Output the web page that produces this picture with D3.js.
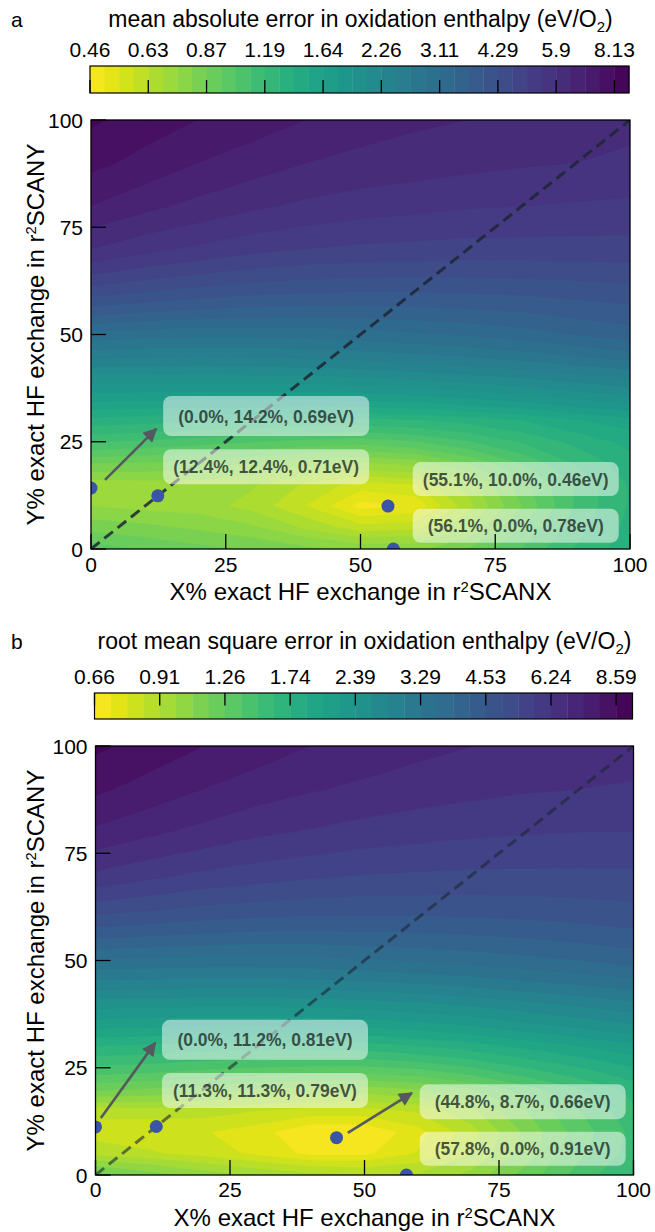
<!DOCTYPE html>
<html>
<head>
<meta charset="utf-8">
<script src="https://cdn.jsdelivr.net/npm/d3@7"></script>
<style>
  body { margin: 0; background: #fff; }
  svg { display: block; }
</style>
</head>
<body>
<svg id="fig" width="655" height="1232"></svg>
<script>
// ---- sampling grid (% exact exchange) ----
const xGrid = [0, 10, 20, 30, 40, 50, 60, 70, 80, 90, 100];
const yGrid = [0, 5, 10, 15, 20, 25, 30, 40, 50, 60, 70, 80, 90, 100];

// mean absolute error (eV/O2); one row per yGrid value, columns follow xGrid
const maeGrid = [
  [0.98, 0.93, 0.89, 0.86, 0.82, 0.78, 0.78, 0.87, 1.02, 1.20, 1.35],
  [0.84, 0.82, 0.79, 0.75, 0.67, 0.60, 0.61, 0.74, 0.94, 1.15, 1.32],
  [0.74, 0.72, 0.71, 0.66, 0.58, 0.48, 0.50, 0.66, 0.87, 1.11, 1.30],
  [0.70, 0.71, 0.71, 0.69, 0.62, 0.56, 0.58, 0.71, 0.91, 1.11, 1.30],
  [0.87, 0.86, 0.84, 0.80, 0.76, 0.73, 0.76, 0.87, 1.02, 1.20, 1.35],
  [1.11, 1.08, 1.05, 1.02, 0.99, 0.97, 1.01, 1.09, 1.20, 1.32, 1.43],
  [1.35, 1.33, 1.30, 1.28, 1.26, 1.25, 1.28, 1.33, 1.40, 1.50, 1.58],
  [2.01, 2.01, 2.01, 2.03, 2.04, 2.08, 2.13, 2.19, 2.27, 2.36, 2.45],
  [3.00, 2.95, 2.92, 2.92, 2.95, 3.00, 3.07, 3.14, 3.24, 3.38, 3.51],
  [4.46, 4.29, 4.15, 4.05, 3.99, 3.96, 3.96, 3.99, 4.02, 4.09, 4.15],
  [5.90, 5.58, 5.36, 5.15, 5.03, 4.95, 4.91, 4.87, 4.87, 4.87, 4.87],
  [6.92, 6.54, 6.24, 5.99, 5.80, 5.67, 5.58, 5.49, 5.45, 5.40, 5.36],
  [7.67, 7.31, 6.92, 6.65, 6.39, 6.24, 6.14, 6.04, 5.95, 5.90, 5.80],
  [8.24, 7.80, 7.49, 7.20, 6.92, 6.65, 6.49, 6.39, 6.29, 6.14, 6.04]
];

// root mean square error (eV/O2); same layout
const rmseGrid = [
  [1.20, 1.11, 1.03, 0.97, 0.93, 0.91, 0.92, 1.01, 1.20, 1.41, 1.62],
  [0.88, 0.85, 0.81, 0.76, 0.70, 0.70, 0.78, 0.91, 1.11, 1.34, 1.53],
  [0.81, 0.79, 0.78, 0.74, 0.66, 0.66, 0.75, 0.88, 1.09, 1.31, 1.51],
  [0.86, 0.87, 0.87, 0.84, 0.81, 0.81, 0.85, 0.97, 1.16, 1.36, 1.57],
  [1.18, 1.15, 1.11, 1.07, 1.03, 1.03, 1.07, 1.16, 1.31, 1.47, 1.66],
  [1.45, 1.43, 1.39, 1.36, 1.34, 1.34, 1.38, 1.47, 1.60, 1.73, 1.87],
  [1.73, 1.70, 1.67, 1.66, 1.66, 1.67, 1.73, 1.81, 1.92, 2.03, 2.15],
  [2.48, 2.46, 2.44, 2.44, 2.46, 2.50, 2.56, 2.64, 2.75, 2.86, 2.98],
  [3.50, 3.47, 3.44, 3.44, 3.47, 3.53, 3.59, 3.67, 3.76, 3.85, 3.98],
  [4.82, 4.71, 4.60, 4.52, 4.49, 4.49, 4.49, 4.52, 4.56, 4.63, 4.71],
  [6.14, 5.89, 5.66, 5.53, 5.40, 5.31, 5.27, 5.23, 5.23, 5.23, 5.23],
  [7.20, 6.87, 6.60, 6.34, 6.19, 6.04, 5.94, 5.85, 5.80, 5.76, 5.76],
  [8.06, 7.68, 7.32, 7.03, 6.81, 6.65, 6.49, 6.39, 6.29, 6.24, 6.19],
  [8.73, 8.32, 7.93, 7.62, 7.32, 7.09, 6.92, 6.76, 6.65, 6.54, 6.44]
];

// colorbar tick values
const maeTicks = [0.46, 0.63, 0.87, 1.19, 1.64, 2.26, 3.11, 4.29, 5.9, 8.13];
const rmseTicks = [0.66, 0.91, 1.26, 1.74, 2.39, 3.29, 4.53, 6.24, 8.59];

// axis ticks
const axisTicks = [0, 25, 50, 75, 100];

// optimal mixing points: X%, Y%, error (eV)
const maeOptima = [
  { x: 0.0, y: 14.2, e: 0.69 },
  { x: 12.4, y: 12.4, e: 0.71 },
  { x: 55.1, y: 10.0, e: 0.46 },
  { x: 56.1, y: 0.0, e: 0.78 }
];
const rmseOptima = [
  { x: 0.0, y: 11.2, e: 0.81 },
  { x: 11.3, y: 11.3, e: 0.79 },
  { x: 44.8, y: 8.7, e: 0.66 },
  { x: 57.8, y: 0.0, e: 0.91 }
];

// ---------------- layout ----------------
const FONT = '"Liberation Sans", Arial, Helvetica, sans-serif';
const SUBLEVELS = 4;   // contour levels between two colorbar ticks

const panels = [
  {
    letter: "a",
    title: "mean absolute error in oxidation enthalpy (eV/O",
    grid: maeGrid, ticks: maeTicks, optima: maeOptima,
    plot: { l: 91, r: 630, t: 120, b: 549 },
    cbar: { t: 66, h: 27, tickFromBottom: true },
    titleY: 27, cbLabelY: 57, xLabelY: 600, xTickY: 572,
    diagOpacity: 0.85,
    // label boxes: centre (data units) and height (px)
    boxes: [
      { cx: 32.5, cy: 31.0, h: 40 },
      { cx: 32.5, cy: 19.2, h: 35 },
      { cx: 78.8, cy: 16.3, h: 34 },
      { cx: 78.8, cy: 5.4, h: 34 }
    ],
    arrows: [ { from: [2.6, 16.1], to: [12.1, 28.0] } ]
  },
  {
    letter: "b",
    title: "root mean square error in oxidation enthalpy (eV/O",
    grid: rmseGrid, ticks: rmseTicks, optima: rmseOptima,
    plot: { l: 95.5, r: 633.5, t: 746, b: 1175 },
    cbar: { t: 693, h: 26, tickFromBottom: false },
    titleY: 649, cbLabelY: 684, xLabelY: 1226, xTickY: 1197,
    diagOpacity: 0.6,
    boxes: [
      { cx: 31.5, cy: 31.5, h: 40 },
      { cx: 31.5, cy: 19.7, h: 35 },
      { cx: 79.4, cy: 17.1, h: 35 },
      { cx: 79.4, cy: 6.1, h: 34 }
    ],
    arrows: [
      { from: [1.0, 13.3], to: [11.1, 30.8] },
      { from: [46.9, 9.8], to: [58.8, 19.1] }
    ]
  }
];

const svg = d3.select("#fig");

// arrow head marker
svg.append("defs").append("marker")
  .attr("id", "head")
  .attr("viewBox", "0 0 10 10")
  .attr("refX", 9).attr("refY", 5)
  .attr("markerUnits", "userSpaceOnUse")
  .attr("markerWidth", 15).attr("markerHeight", 14)
  .attr("orient", "auto")
  .append("path")
  .attr("d", "M0,0 L10,5 L0,10 Z")
  .attr("fill", "#55595f");

// geometric subdivision of the colorbar tick values into contour levels
function buildLevels(ticks) {
  const lv = [];
  for (let i = 0; i < ticks.length - 1; i++) {
    const r = Math.pow(ticks[i + 1] / ticks[i], 1 / SUBLEVELS);
    for (let k = 0; k < SUBLEVELS; k++) lv.push(ticks[i] * Math.pow(r, k));
  }
  const n = ticks.length;
  const rLast = Math.pow(ticks[n - 1] / ticks[n - 2], 1 / SUBLEVELS);
  lv.push(ticks[n - 1], ticks[n - 1] * rLast);
  return lv;
}

function axisLabel(g, txt, suffix) {
  // "… in r²SCAN…" with a small raised 2
  g.append("tspan").text(txt + " r");
  g.append("tspan").attr("font-size", "62%").attr("dy", -8).text("2");
  g.append("tspan").attr("dy", 8).text(suffix);
}

panels.forEach((P, pi) => {
  const g = svg.append("g");
  const levels = buildLevels(P.ticks);
  const nBands = levels.length - 1;
  const bandColor = i => d3.interpolateViridis(1 - (i + 0.5) / nBands);

  // ---------- header: letter, title, colorbar ----------
  g.append("text").attr("x", 11).attr("y", P.titleY)
    .attr("font-family", FONT).attr("font-size", 21).text(P.letter);

  const titleX = (P.plot.l + P.plot.r) / 2;
  const tt = g.append("text").attr("x", titleX).attr("y", P.titleY)
    .attr("text-anchor", "middle")
    .attr("font-family", FONT).attr("font-size", 23);
  tt.append("tspan").text(P.title);
  tt.append("tspan").attr("font-size", "65%").attr("dy", 5).text("2");
  tt.append("tspan").attr("dy", -5).text(")");

  const cb = d3.scaleLinear().domain([0, nBands]).range([P.plot.l - 1, P.plot.r - 1]);
  const cbar = g.append("g");
  cbar.selectAll("rect.band").data(d3.range(nBands)).join("rect")
    .attr("class", "band")
    .attr("x", i => cb(i)).attr("width", i => cb(i + 1) - cb(i) + 0.4)
    .attr("y", P.cbar.t).attr("height", P.cbar.h)
    .attr("fill", i => bandColor(i));
  cbar.append("rect")
    .attr("x", cb(0)).attr("width", cb(nBands) - cb(0))
    .attr("y", P.cbar.t).attr("height", P.cbar.h)
    .attr("fill", "none").attr("stroke", "#000").attr("stroke-width", 1.2);

  const tickIdx = P.ticks.map((t, i) => ({ v: t, pos: i * SUBLEVELS }));
  const tlen = P.cbar.h * 0.48;
  cbar.selectAll("line.tk").data(tickIdx).join("line")
    .attr("class", "tk")
    .attr("x1", d => cb(d.pos)).attr("x2", d => cb(d.pos))
    .attr("y1", P.cbar.tickFromBottom ? P.cbar.t + P.cbar.h : P.cbar.t)
    .attr("y2", P.cbar.tickFromBottom ? P.cbar.t + P.cbar.h - tlen : P.cbar.t + tlen)
    .attr("stroke", "#000").attr("stroke-width", 1.3);
  cbar.selectAll("text.tl").data(tickIdx).join("text")
    .attr("class", "tl")
    .attr("x", d => cb(d.pos)).attr("y", P.cbLabelY)
    .attr("text-anchor", "middle")
    .attr("font-family", FONT).attr("font-size", 21)
    .text(d => String(d.v));

  // ---------- contour field ----------
  const x = d3.scaleLinear().domain([0, 100]).range([P.plot.l, P.plot.r]);
  const y = d3.scaleLinear().domain([0, 100]).range([P.plot.b, P.plot.t]);

  const nx = xGrid.length, ny = yGrid.length;
  const ix = d3.scaleLinear().domain(d3.range(nx)).range(xGrid).clamp(true);
  const iy = d3.scaleLinear().domain(d3.range(ny)).range(yGrid).clamp(true);
  const flat = [];
  for (let j = 0; j < ny; j++) for (let i = 0; i < nx; i++) flat.push(P.grid[j][i]);

  const contours = d3.contours()
    .size([nx, ny])
    .smooth(true)
    .thresholds(levels.slice(1, nBands))(flat);

  const proj = d3.geoTransform({
    point(px, py) { this.stream.point(x(ix(px - 0.5)), y(iy(py - 0.5))); }
  });
  const path = d3.geoPath(proj);

  const clipId = "clip" + pi;
  g.append("clipPath").attr("id", clipId).append("rect")
    .attr("x", P.plot.l).attr("y", P.plot.t)
    .attr("width", P.plot.r - P.plot.l).attr("height", P.plot.b - P.plot.t);

  const field = g.append("g").attr("clip-path", `url(#${clipId})`);
  field.append("rect")
    .attr("x", P.plot.l).attr("y", P.plot.t)
    .attr("width", P.plot.r - P.plot.l).attr("height", P.plot.b - P.plot.t)
    .attr("fill", bandColor(0));
  field.selectAll("path.lvl").data(contours).join("path")
    .attr("class", "lvl")
    .attr("d", path)
    .attr("fill", (d, i) => bandColor(i + 1))
    .attr("stroke", (d, i) => bandColor(i + 1))
    .attr("stroke-width", 0.4);

  // diagonal X = Y
  field.append("line")
    .attr("x1", x(0)).attr("y1", y(0)).attr("x2", x(100)).attr("y2", y(100))
    .attr("stroke", "#1d2633").attr("stroke-opacity", P.diagOpacity)
    .attr("stroke-width", 3).attr("stroke-dasharray", "11,6");

  // optimum markers
  field.selectAll("circle.opt").data(P.optima).join("circle")
    .attr("class", "opt")
    .attr("cx", d => x(d.x)).attr("cy", d => y(d.y)).attr("r", 6.5)
    .attr("fill", "#3a54a6");

  // arrows
  field.selectAll("line.arr").data(P.arrows).join("line")
    .attr("class", "arr")
    .attr("x1", d => x(d.from[0])).attr("y1", d => y(d.from[1]))
    .attr("x2", d => x(d.to[0])).attr("y2", d => y(d.to[1]))
    .attr("stroke", "#55595f").attr("stroke-width", 2.6)
    .attr("marker-end", "url(#head)");

  // annotation boxes
  const boxW = 206;
  const ann = field.selectAll("g.ann").data(P.optima).join("g").attr("class", "ann");
  ann.append("rect")
    .attr("x", (d, i) => x(P.boxes[i].cx) - boxW / 2)
    .attr("y", (d, i) => y(P.boxes[i].cy) - P.boxes[i].h / 2)
    .attr("width", boxW).attr("height", (d, i) => P.boxes[i].h)
    .attr("rx", 8).attr("fill", "#fff").attr("fill-opacity", 0.5);
  ann.append("text")
    .attr("x", (d, i) => x(P.boxes[i].cx))
    .attr("y", (d, i) => y(P.boxes[i].cy) + 6.5)
    .attr("text-anchor", "middle")
    .attr("font-family", FONT).attr("font-weight", "bold").attr("font-size", 17.5)
    .attr("fill", "#13221c").attr("fill-opacity", 0.75)
    .text(d => `(${d.x.toFixed(1)}%, ${d.y.toFixed(1)}%, ${d.e.toFixed(2)}eV)`);

  // ---------- axes ----------
  const ax = g.append("g");
  ax.append("rect")
    .attr("x", P.plot.l).attr("y", P.plot.t)
    .attr("width", P.plot.r - P.plot.l).attr("height", P.plot.b - P.plot.t)
    .attr("fill", "none").attr("stroke", "#000").attr("stroke-width", 1.3);

  const TL = 15;
  ax.selectAll("line.xt").data(axisTicks).join("line").attr("class", "xt")
    .attr("x1", d => x(d)).attr("x2", d => x(d))
    .attr("y1", P.plot.b).attr("y2", P.plot.b - TL)
    .attr("stroke", "#000").attr("stroke-width", 1.3);
  ax.selectAll("line.yt").data(axisTicks).join("line").attr("class", "yt")
    .attr("y1", d => y(d)).attr("y2", d => y(d))
    .attr("x1", P.plot.l).attr("x2", P.plot.l + TL)
    .attr("stroke", "#000").attr("stroke-width", 1.3);

  ax.selectAll("text.xl").data(axisTicks).join("text").attr("class", "xl")
    .attr("x", d => x(d)).attr("y", P.xTickY)
    .attr("text-anchor", "middle")
    .attr("font-family", FONT).attr("font-size", 21)
    .text(d => d);
  ax.selectAll("text.yl").data(axisTicks).join("text").attr("class", "yl")
    .attr("x", P.plot.l - 8).attr("y", d => y(d) + 7.5)
    .attr("text-anchor", "end")
    .attr("font-family", FONT).attr("font-size", 21)
    .text(d => d);

  const xl = ax.append("text")
    .attr("x", (P.plot.l + P.plot.r) / 2).attr("y", P.xLabelY)
    .attr("text-anchor", "middle")
    .attr("font-family", FONT).attr("font-size", 24);
  axisLabel(xl, "X% exact HF exchange in", "SCANX");

  const yMid = (P.plot.t + P.plot.b) / 2;
  const yl = ax.append("text")
    .attr("transform", `translate(44,${yMid}) rotate(-90)`)
    .attr("text-anchor", "middle")
    .attr("font-family", FONT).attr("font-size", 24);
  axisLabel(yl, "Y% exact HF exchange in", "SCANY");
});
</script>
</body>
</html>
